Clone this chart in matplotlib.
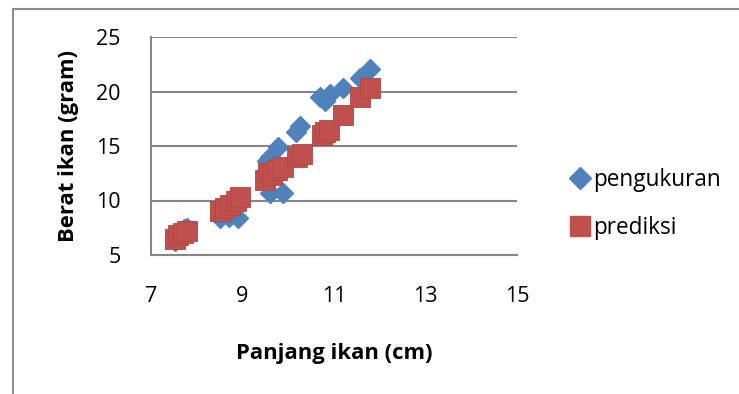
import matplotlib.pyplot as plt
from matplotlib.lines import Line2D

plt.rcParams["font.family"] = ["Open Sans", "DejaVu Sans"]

# pengukuran (measured)
ukur_x = [7.53, 7.60, 7.65, 7.72, 7.78, 8.51, 8.70, 8.91, 9.53, 9.60, 9.78,
          9.60, 9.89, 10.18, 10.26, 10.69, 10.80, 10.91, 11.20, 11.57, 11.79]
ukur_y = [6.3, 6.7, 7.1, 7.4, 7.5, 8.37, 8.5, 8.37, 13.6, 14.0, 14.9,
          10.66, 10.66, 16.3, 16.8, 19.5, 19.1, 19.8, 20.3, 21.2, 22.1]

# prediksi (predicted)
pred_x = [7.52, 7.60, 7.71, 7.78, 8.51, 8.62, 8.73, 8.85, 8.95, 9.49, 9.56,
          9.65, 9.76, 9.89, 10.20, 10.29, 10.73, 10.80, 10.88, 11.20, 11.57, 11.79]
pred_y = [6.5, 6.8, 7.0, 7.2, 9.0, 9.3, 9.6, 10.0, 10.35, 11.9, 12.5,
          12.3, 12.8, 13.1, 14.0, 14.3, 16.0, 16.3, 16.5, 17.85, 19.5, 20.3]

x_ticks = [7, 9, 11, 13, 15]
y_ticks = [5, 10, 15, 20, 25]

blue = "#4F81BD"
red = "#C0504D"
grid_c = "#868686"

fig = plt.figure(figsize=(7.39, 3.94), dpi=100)
ax = fig.add_axes([151 / 739, 1 - 255 / 394, 366 / 739, 218 / 394])

ax.plot(ukur_x, ukur_y, linestyle="none", marker="D", ms=10.5, color=blue,
        mec=blue, label="pengukuran", zorder=3)
ax.plot(pred_x, pred_y, linestyle="none", marker="s", ms=14, color=red,
        mec="#B14643", mew=0.6, label="prediksi", zorder=4)

ax.set_xlim(7, 15)
ax.set_ylim(5, 25)
ax.set_xticks(x_ticks)
ax.set_yticks(y_ticks)
ax.tick_params(length=0, labelsize=15.5, colors="black")
ax.tick_params(axis="x", pad=22)
ax.tick_params(axis="y", pad=22)
ax.grid(axis="y", color=grid_c, linewidth=1.5)
ax.set_axisbelow(True)
for s in ["top", "right"]:
    ax.spines[s].set_visible(False)
for s in ["left", "bottom"]:
    ax.spines[s].set_color(grid_c)
    ax.spines[s].set_linewidth(1.5)

ax.set_xlabel("Panjang ikan (cm)", fontsize=15.8, fontweight="bold", labelpad=26)
ax.set_ylabel("Berat ikan (gram)", fontsize=15.8, fontweight="bold", labelpad=12)

handles = [Line2D([], [], linestyle="none", marker="D", ms=11, color=blue),
           Line2D([], [], linestyle="none", marker="s", ms=14, color=red)]
fig.legend(handles, ["pengukuran", "prediksi"], loc="center left",
           bbox_to_anchor=(563 / 739, 1 - 204 / 394), frameon=False,
           fontsize=16.3, handlelength=0.7, handletextpad=0.25, labelspacing=1.05,
           borderaxespad=0)

# outer chart frame (left and top edges visible)
fig.add_artist(Line2D([13 / 739, 13 / 739], [0, 1 - 9 / 394], color="#8c8c8c",
                      linewidth=1.5, transform=fig.transFigure))
fig.add_artist(Line2D([13 / 739, 1], [1 - 9 / 394, 1 - 9 / 394], color="#8c8c8c",
                      linewidth=1.5, transform=fig.transFigure))

fig.savefig("out.png", dpi=100, facecolor="white")
